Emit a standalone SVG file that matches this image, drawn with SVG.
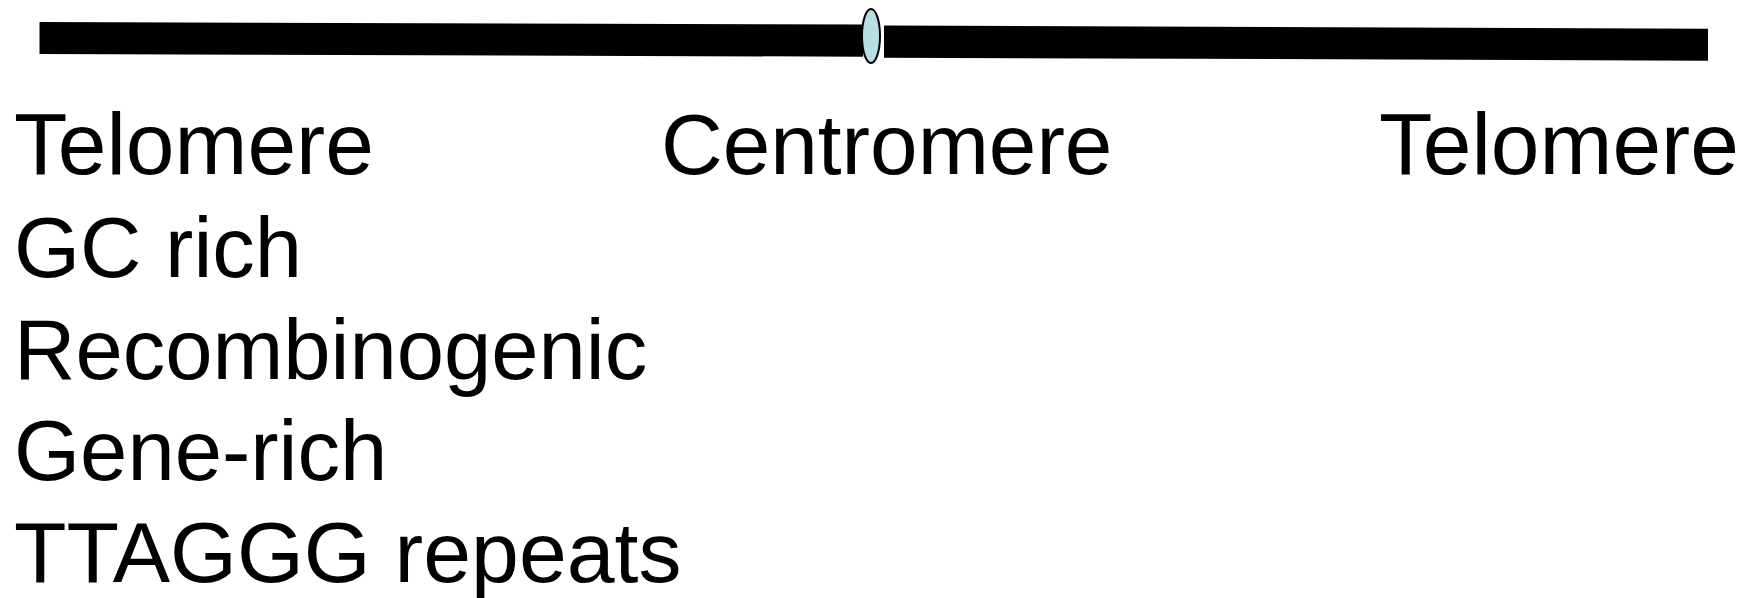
<svg xmlns="http://www.w3.org/2000/svg" width="1758" height="598" viewBox="0 0 1758 598">
<style>
.lbl{font-family:"Liberation Sans",Arial,sans-serif;font-size:85px;fill:#000}
.big{font-size:87.5px}
.arm{fill:#000}
</style>
<rect width="1758" height="598" fill="#fff"/>
<g id="chromosome">
<polygon class="arm" points="39.5,22 863,24.5 863,56.7 39.5,54"/>
<polygon class="arm" points="884,25.5 1708,28.7 1708,60.7 884,57.7"/>
<ellipse cx="871" cy="36" rx="9" ry="27" fill="#B9DFE2" stroke="#000" stroke-width="2"/>
</g>
<g id="labels">
<text class="lbl big" x="14" y="174">Telomere</text>
<text class="lbl" x="661" y="174" style="font-size:85.5px">Centromere</text>
<text class="lbl big" x="1379" y="174">Telomere</text>
<text class="lbl" x="14" y="276.5">GC rich</text>
<text class="lbl" x="14" y="378.5">Recombinogenic</text>
<text class="lbl" x="14" y="480">Gene-rich</text>
<text class="lbl" x="14" y="582" style="font-size:86px">TTAGGG repeats</text>
</g>
</svg>
